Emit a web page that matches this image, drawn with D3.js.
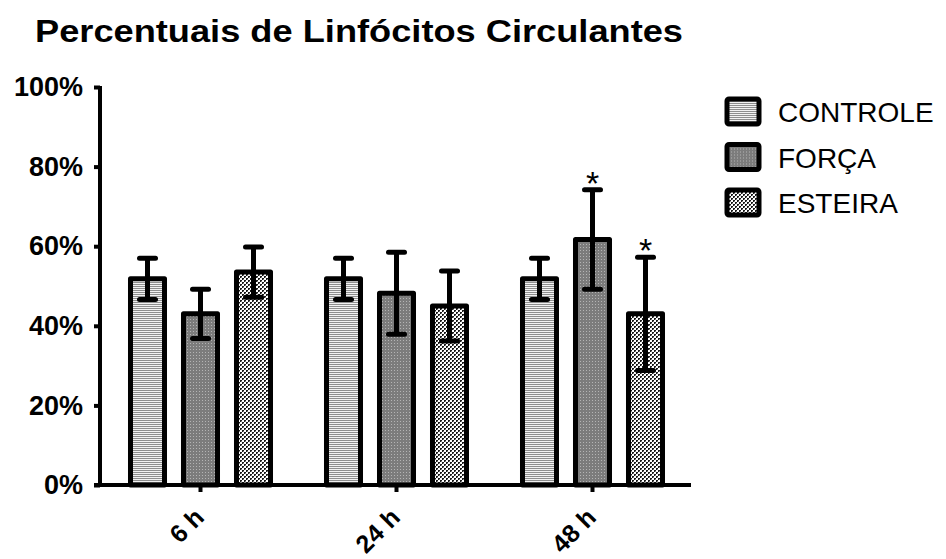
<!DOCTYPE html>
<html>
<head>
<meta charset="utf-8">
<script src="https://cdn.jsdelivr.net/npm/d3@7"></script>
<style>
  html, body { margin: 0; padding: 0; background: #fff; }
  svg { display: block; font-family: "Liberation Sans", Arial, sans-serif; }
</style>
</head>
<body>
<svg id="chart" width="946" height="559"></svg>
<script>
// Lymphocyte percentages by time point and group (mean ± SD)
const timePoints = ["6 h", "24 h", "48 h"];
const groups = ["CONTROLE", "FORÇA", "ESTEIRA"];
const controleMean = [51.8, 51.8, 51.8];
const controleSD   = [5.2, 5.2, 5.2];
const forcaMean    = [43.0, 48.2, 61.7];
const forcaSD      = [6.2, 10.3, 12.5];
const esteiraMean  = [53.5, 45.0, 43.0];
const esteiraSD    = [6.3, 8.8, 14.2];
const significant  = [[false, false, false], [false, false, true], [false, false, true]]; // [group][time]
const yTicks = [0, 20, 40, 60, 80, 100];
const chartTitle = "Percentuais de Linfócitos Circulantes";

const FONT = "'Liberation Sans', Arial, sans-serif";
const means = [controleMean, forcaMean, esteiraMean];
const sds = [controleSD, forcaSD, esteiraSD];
const rows = [];
timePoints.forEach((t, ti) => {
  groups.forEach((g, gi) => {
    rows.push({ time: t, group: g, gi, mean: means[gi][ti], sd: sds[gi][ti], sig: significant[gi][ti] });
  });
});

const svg = d3.select("#chart");
const defs = svg.append("defs");

// Fill patterns for the three groups
const pStripe = defs.append("pattern").attr("id", "pat0")
  .attr("patternUnits", "userSpaceOnUse").attr("width", 4).attr("height", 2);
pStripe.append("rect").attr("width", 4).attr("height", 2).attr("fill", "#f2f2f2");
pStripe.append("rect").attr("width", 4).attr("height", 1).attr("fill", "#8e8e8e");

const pDots = defs.append("pattern").attr("id", "pat1")
  .attr("patternUnits", "userSpaceOnUse").attr("width", 3).attr("height", 3);
pDots.append("rect").attr("width", 3).attr("height", 3).attr("fill", "#7c7c7c");
pDots.append("rect").attr("x", 1).attr("y", 1).attr("width", 1).attr("height", 1).attr("fill", "#b4b4b4");

const pCheck = defs.append("pattern").attr("id", "pat2")
  .attr("patternUnits", "userSpaceOnUse").attr("width", 4).attr("height", 4);
pCheck.append("rect").attr("width", 4).attr("height", 4).attr("fill", "#ffffff");
pCheck.append("rect").attr("x", 0).attr("y", 0).attr("width", 2).attr("height", 2).attr("fill", "#1a1a1a");
pCheck.append("rect").attr("x", 2).attr("y", 2).attr("width", 2).attr("height", 2).attr("fill", "#1a1a1a");
pCheck.append("rect").attr("x", 1).attr("y", 1).attr("width", 1).attr("height", 1).attr("fill", "#888");
pCheck.append("rect").attr("x", 3).attr("y", 3).attr("width", 1).attr("height", 1).attr("fill", "#888");

const fills = ["url(#pat0)", "url(#pat1)", "url(#pat2)"];

// Scales
const x0 = d3.scaleBand().domain(timePoints).range([102.5, 690.5]).padding(0);
const x1 = d3.scaleBand().domain(groups).range([-79.5, 79.5]).paddingInner(0.264).paddingOuter(0.132);
const y = d3.scaleLinear().domain([0, 100]).range([485, 87]);

const barStroke = 5;

// Title
svg.append("text")
  .attr("x", 35).attr("y", 42)
  .attr("font-family", FONT)
  .attr("font-size", 31).attr("font-weight", "bold")
  .attr("textLength", 648).attr("lengthAdjust", "spacingAndGlyphs")
  .text(chartTitle);

// Bars
const barW = x1.bandwidth() - barStroke;
svg.append("g").selectAll("rect").data(rows).join("rect")
  .attr("x", d => x0(d.time) + x0.bandwidth() / 2 + x1(d.group) + barStroke / 2)
  .attr("y", d => y(d.mean))
  .attr("width", barW)
  .attr("height", d => y(0) - y(d.mean))
  .attr("fill", d => fills[d.gi])
  .attr("stroke", "#000").attr("stroke-width", barStroke)
  .attr("stroke-linejoin", "round");

// Error bars
const cx = d => x0(d.time) + x0.bandwidth() / 2 + x1(d.group) + x1.bandwidth() / 2;
const eb = svg.append("g").attr("stroke", "#000").attr("stroke-width", 5);
eb.selectAll("line.v").data(rows).join("line").attr("class", "v")
  .attr("x1", cx).attr("x2", cx)
  .attr("y1", d => y(d.mean + d.sd)).attr("y2", d => y(d.mean - d.sd));
eb.selectAll("line.top").data(rows).join("line").attr("class", "top")
  .attr("x1", d => cx(d) - 8).attr("x2", d => cx(d) + 8)
  .attr("y1", d => y(d.mean + d.sd)).attr("y2", d => y(d.mean + d.sd))
  .attr("stroke-linecap", "round");
eb.selectAll("line.bot").data(rows).join("line").attr("class", "bot")
  .attr("x1", d => cx(d) - 8).attr("x2", d => cx(d) + 8)
  .attr("y1", d => y(d.mean - d.sd)).attr("y2", d => y(d.mean - d.sd))
  .attr("stroke-linecap", "round");

// Significance marks
svg.append("g").selectAll("text").data(rows.filter(d => d.sig)).join("text")
  .attr("x", cx).attr("y", d => y(d.mean + d.sd) + 5)
  .attr("text-anchor", "middle").attr("font-size", 34)
  .attr("font-family", FONT)
  .text("*");

// Y axis
const yAxis = svg.append("g").attr("transform", "translate(100,0)")
  .call(d3.axisLeft(y).tickValues(yTicks).tickFormat(d => d + "%").tickSize(6).tickSizeOuter(0));
yAxis.select(".domain").attr("stroke-width", 4).attr("d", `M0,${y(100) - 1}V${y(0) + 2}`);
yAxis.selectAll(".tick line").attr("stroke-width", 4);
yAxis.selectAll(".tick text").attr("font-size", 27).attr("font-weight", "bold")
  .attr("font-family", FONT).attr("fill", "#000").attr("x", -17);

// X axis
const xAxis = svg.append("g").attr("transform", `translate(0,${y(0)})`)
  .call(d3.axisBottom(x0).tickSize(7).tickSizeOuter(0));
xAxis.select(".domain").attr("stroke-width", 4).attr("d", "M94,0H691");
xAxis.selectAll(".tick line").attr("stroke-width", 4);
xAxis.selectAll(".tick text")
  .attr("font-size", 25).attr("font-weight", "bold")
  .attr("font-family", FONT).attr("fill", "#000")
  .attr("text-anchor", "end").attr("dy", 0).attr("y", 0)
  .attr("transform", "translate(5,34) rotate(-45)");

// Legend
const legend = svg.append("g").selectAll("g").data(groups).join("g")
  .attr("transform", (d, i) => `translate(727,${99 + i * 45.5})`);
legend.append("rect")
  .attr("width", 32).attr("height", 25)
  .attr("rx", 2)
  .attr("fill", (d, i) => fills[i])
  .attr("stroke", "#000").attr("stroke-width", 5).attr("stroke-linejoin", "round");
legend.append("text")
  .attr("x", 51).attr("y", 23)
  .attr("font-family", FONT)
  .attr("font-size", 28)
  .text(d => d);
</script>
</body>
</html>
